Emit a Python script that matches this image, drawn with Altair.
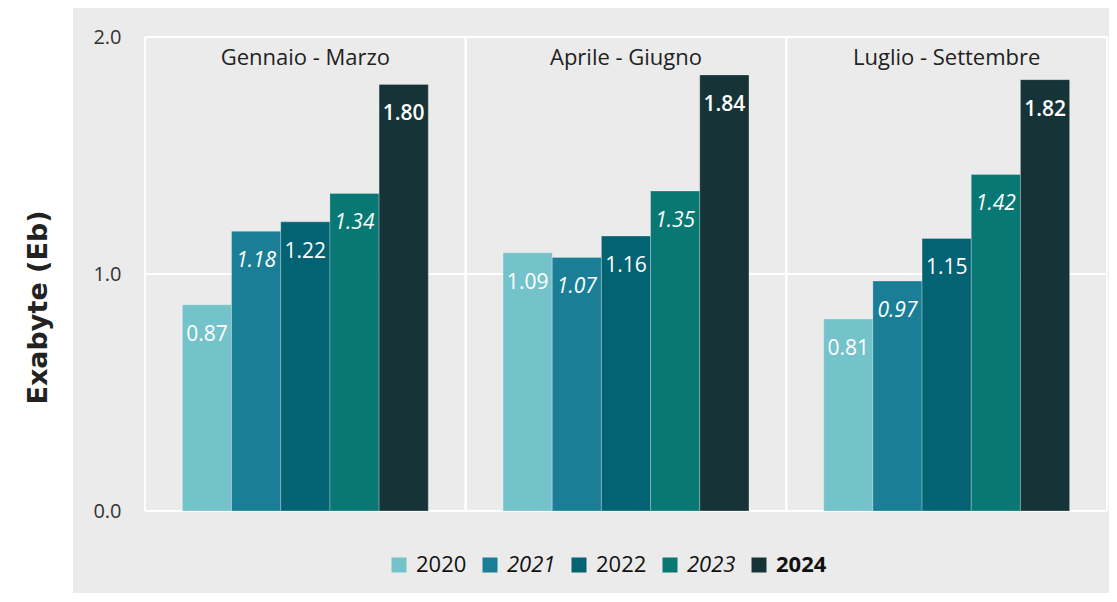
import altair as alt
import pandas as pd

quarters = ["Gennaio - Marzo", "Aprile - Giugno", "Luglio - Settembre"]
years = ["2020", "2021", "2022", "2023", "2024"]
v2020 = [0.87, 1.09, 0.81]
v2021 = [1.18, 1.07, 0.97]
v2022 = [1.22, 1.16, 1.15]
v2023 = [1.34, 1.35, 1.42]
v2024 = [1.80, 1.84, 1.82]
colors = ["#74C3CB", "#1A7F96", "#046373", "#077873", "#163437"]
y_ticks = [0.0, 1.0, 2.0]

FONT = "Open Sans"
W, H = 962, 474

rows = []
for yr, vals in zip(years, [v2020, v2021, v2022, v2023, v2024]):
    for q, v in zip(quarters, vals):
        rows.append({"quarter": q, "year": yr, "value": v, "label": f"{v:.2f}"})
df = pd.DataFrame(rows)
grid_df = pd.DataFrame({"g": y_ticks})
head_df = pd.DataFrame({"quarter": quarters, "top": [max(y_ticks)] * len(quarters)})
bg_df = pd.DataFrame({"a": [0]})

x_scale = alt.Scale(domain=quarters, paddingInner=0, paddingOuter=0)
y_scale = alt.Scale(domain=[min(y_ticks), max(y_ticks)], nice=False)
y_axis = alt.Axis(
    values=y_ticks, format=".1f", grid=False, domain=False, ticks=False,
    labelFontSize=20, labelColor="#333333", labelFont=FONT, labelPadding=24,
    title="Exabyte (Eb)", titleFontSize=27, titleFontWeight="bold", titleFont="DejaVu Sans",
    titleColor="#222222", titlePadding=40, titleY=270, zindex=1,
)

bg = alt.Chart(bg_df).mark_rect(color="#EBEBEB").encode(
    x=alt.value(-72), x2=alt.value(W + 20), y=alt.value(-40), y2=alt.value(H + 120)
)

hgrid = alt.Chart(grid_df).mark_rule(color="white", strokeWidth=2).encode(
    y=alt.Y("g:Q", scale=y_scale, axis=y_axis)
)

vsep0 = alt.Chart(head_df).mark_rule(color="white", strokeWidth=2).encode(
    x=alt.X("quarter:N", sort=quarters, scale=x_scale, axis=None, bandPosition=0)
)
vsep1 = alt.Chart(head_df).mark_rule(color="white", strokeWidth=2).encode(
    x=alt.X("quarter:N", sort=quarters, scale=x_scale, axis=None, bandPosition=1)
)

legend = alt.Legend(
    title=None, orient="none", legendX=243, legendY=517, direction="horizontal",
    symbolType="square", symbolSize=225, symbolStrokeWidth=0, symbolOpacity=1,
    labelFontSize=22, labelColor="#111111", labelFont=FONT, columnPadding=12, labelOffset=6,
    labelFontStyle=alt.ExprRef(expr="datum.label == '2021' || datum.label == '2023' ? 'italic' : 'normal'"),
    labelFontWeight=alt.ExprRef(expr="datum.label == '2024' ? 'bold' : 'normal'"),
)

x_enc = alt.X("quarter:N", sort=quarters, scale=x_scale, axis=None)
xo_enc = alt.XOffset("year:N", sort=years, scale=alt.Scale(domain=years, paddingInner=0, paddingOuter=0.76))

bars = alt.Chart(df).mark_bar(stroke="#ffffff", strokeOpacity=0.25, strokeWidth=1).encode(
    x=x_enc,
    xOffset=xo_enc,
    y=alt.Y("value:Q", scale=y_scale, axis=y_axis),
    color=alt.Color("year:N", scale=alt.Scale(domain=years, range=colors), legend=legend),
)

def labels(sel, style, weight):
    return alt.Chart(df).transform_filter(
        alt.FieldOneOfPredicate(field="year", oneOf=sel)
    ).mark_text(
        color="white", font=FONT, fontSize=21, fontStyle=style, fontWeight=weight,
        baseline="middle", dy=30,
    ).encode(
        x=x_enc, xOffset=xo_enc,
        y=alt.Y("value:Q", scale=y_scale, axis=y_axis),
        text="label:N",
    )

lab_n = labels(["2020", "2022"], "normal", "normal")
lab_i = labels(["2021", "2023"], "italic", "normal")
lab_b = labels(["2024"], "normal", 600)

heads = alt.Chart(head_df).mark_text(
    font=FONT, fontSize=22, color="#222222", baseline="middle", dy=21
).encode(
    x=x_enc,
    y=alt.Y("top:Q", scale=y_scale, axis=y_axis),
    text="quarter:N",
)

chart = alt.layer(bg, hgrid, vsep0, vsep1, bars, lab_n, lab_i, lab_b, heads).properties(
    width=W, height=H,
    autosize=alt.AutoSizeParams(type="none"),
    padding={"left": 137, "top": 29, "right": 2, "bottom": 82},
    background="white",
).configure_view(stroke=None)

chart.save("out.html", embed_options={"renderer": "svg", "actions": False})
